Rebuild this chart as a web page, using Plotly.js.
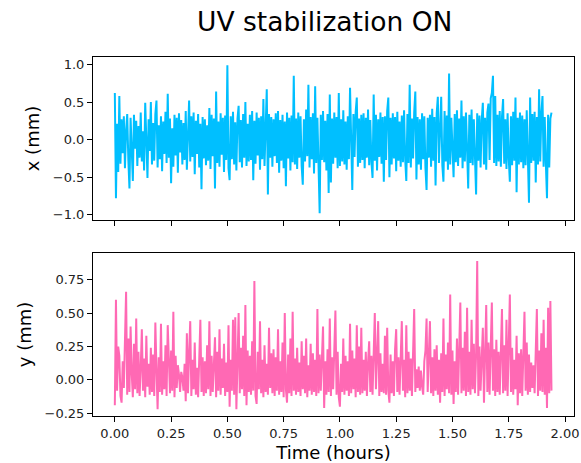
<!DOCTYPE html>
<html>
<head>
<meta charset="utf-8">
<script src="https://cdn.plot.ly/plotly-3.0.1.min.js"></script>
<style>html,body{margin:0;padding:0;background:#fff;}#chart{width:581px;height:463px;}</style>
</head>
<body>
<div id="chart"></div>
<script>
const chartTitle = "UV stabilization ON";
const xLabel = "Time (hours)";
const topLabel = "x (mm)";
const bottomLabel = "y (mm)";
const sampleStepHours = 0.005;

const xDisp = [
0.62,-0.78,0.21,-0.43,0.58,-0.32,0.27,-0.18,0.31,-0.38,0.12,0.34,-0.27,-0.65,0.29,-0.21,-0.55,0.33,-0.12,0.25,
-0.35,0.18,-0.24,0.36,-0.29,0.11,-0.41,0.49,-0.22,-0.51,0.27,-0.15,0.50,-0.33,0.22,-0.28,0.34,0.52,-0.37,0.19,
-0.26,0.31,-0.42,0.24,-0.19,0.37,-0.31,0.61,-0.24,0.28,-0.58,0.15,-0.36,0.33,-0.21,0.29,-0.44,0.35,-0.17,0.26,
-0.33,0.22,-0.27,0.38,-0.40,0.18,0.52,-0.29,0.31,-0.23,0.36,-0.46,0.25,-0.19,0.34,-0.37,0.21,-0.66,0.30,-0.25,
0.27,-0.34,0.19,-0.28,0.42,-0.39,0.33,-0.22,0.28,-0.65,0.64,-0.31,0.24,-0.36,0.35,-0.20,0.29,-0.43,0.32,-0.27,
0.99,-0.38,-0.54,0.31,-0.26,0.37,-0.33,0.23,-0.41,0.28,0.45,-0.30,0.26,-0.37,0.34,-0.24,0.50,-0.35,0.21,-0.29,
0.33,-0.27,0.38,-0.54,0.25,-0.32,0.36,-0.21,0.29,-0.40,0.31,-0.26,0.54,-0.35,0.28,0.67,-0.73,0.34,-0.24,0.30,
-0.36,0.27,-0.22,0.35,-0.31,0.38,-0.44,0.26,-0.28,0.33,-0.38,0.24,-0.62,0.36,-0.25,0.29,-0.41,0.32,-0.30,0.85,
-0.33,0.28,-0.39,0.36,-0.24,0.31,-0.35,-0.60,0.27,-0.29,0.40,-0.22,0.73,-0.37,0.30,-0.26,0.35,-0.45,0.71,-0.31,
0.29,-0.34,-0.98,0.33,-0.27,0.38,-0.30,0.25,-0.41,0.34,-0.71,0.60,-0.57,0.28,-0.32,0.36,-0.24,0.30,-0.38,0.62,
-0.35,0.27,-0.29,0.39,-0.33,0.24,-0.40,0.31,-0.26,0.69,-0.30,-0.67,0.34,-0.23,0.37,0.56,-0.36,0.28,-0.31,0.33,
-0.27,0.35,-0.38,0.29,-0.24,0.40,-0.34,0.26,-0.30,-0.51,0.60,-0.28,0.33,-0.41,0.27,-0.23,0.36,-0.32,0.30,-0.56,
0.31,-0.27,0.38,0.56,-0.50,0.29,-0.33,0.35,-0.25,0.30,-0.42,0.37,-0.28,0.24,-0.36,0.32,-0.30,0.39,-0.26,-0.55,
0.34,-0.31,0.73,-0.37,0.28,-0.25,0.36,0.64,-0.53,0.30,-0.33,0.27,-0.40,0.35,-0.26,0.31,-0.38,-0.67,0.29,-0.24,
0.33,-0.36,0.41,-0.28,0.30,-0.61,0.35,0.57,-0.31,0.27,0.57,-0.34,-0.56,0.38,-0.29,0.32,-0.40,0.88,-0.33,0.29,
-0.27,-0.50,0.34,-0.30,0.39,-0.35,0.28,-0.24,0.52,-0.38,0.31,-0.29,0.36,-0.26,-0.65,0.33,-0.31,0.40,-0.34,0.27,
-0.30,-0.73,0.35,-0.28,0.32,-0.37,0.26,0.49,-0.33,0.29,-0.40,0.36,0.48,-0.27,0.55,0.62,0.85,-0.31,0.58,-0.35,
0.33,-0.29,0.38,-0.36,0.30,0.54,-0.32,0.27,-0.39,0.35,-0.25,-0.56,0.31,-0.34,0.37,-0.28,0.56,-0.70,0.29,-0.33,
0.36,-0.30,0.32,-0.38,0.27,-0.34,0.39,-0.26,-0.84,0.56,-0.31,0.34,-0.28,0.37,-0.57,0.30,-0.33,0.67,-0.29,0.35,
0.58,-0.36,0.30,-0.32,-0.78,0.33,-0.37,0.28,0.36
];

const yDisp = [
-0.19,0.60,-0.08,0.25,0.18,-0.12,-0.17,0.14,-0.06,0.22,0.66,-0.11,0.31,-0.09,0.40,0.05,-0.13,0.27,-0.07,0.46,
-0.10,0.21,-0.12,0.09,0.38,-0.08,0.16,-0.13,0.33,-0.05,0.12,-0.11,0.24,-0.09,0.19,-0.12,0.43,0.08,-0.22,0.17,
-0.09,0.42,-0.11,0.14,-0.07,0.26,-0.12,0.41,0.03,-0.10,0.22,-0.08,0.51,-0.13,0.18,-0.06,0.11,0.04,-0.09,0.06,
0.02,-0.08,0.12,-0.16,0.35,-0.10,0.20,0.44,-0.12,0.15,-0.07,0.28,-0.11,0.09,-0.13,0.23,0.45,-0.09,0.17,-0.12,
0.14,-0.10,0.26,-0.07,0.44,-0.12,0.18,-0.09,0.11,0.32,-0.13,0.21,-0.08,0.38,-0.11,0.16,-0.06,0.27,-0.12,0.13,
-0.09,0.41,-0.20,0.15,-0.08,0.45,-0.11,0.47,-0.22,0.19,0.50,-0.10,0.24,-0.07,0.33,-0.12,0.56,-0.19,0.22,-0.09,
0.18,-0.11,0.29,-0.08,0.74,-0.12,-0.18,0.21,-0.07,0.44,-0.10,0.15,-0.13,0.26,-0.09,0.12,-0.11,0.39,-0.06,0.20,
-0.10,0.23,-0.12,0.17,-0.08,0.38,-0.11,0.14,-0.09,0.28,-0.13,0.50,-0.07,-0.17,0.19,-0.10,0.31,-0.12,0.51,-0.08,
0.16,-0.11,0.24,-0.09,0.13,-0.12,0.29,-0.07,0.18,-0.10,0.31,-0.13,0.11,-0.08,0.27,-0.11,0.20,-0.09,0.15,-0.12,
0.53,-0.10,0.19,-0.08,0.26,0.40,-0.21,0.14,-0.11,0.23,-0.09,0.46,-0.12,0.17,-0.07,0.30,0.52,-0.11,0.21,-0.13,
-0.20,0.12,-0.09,0.31,-0.11,0.18,-0.08,0.14,-0.12,0.42,-0.10,0.22,-0.07,0.16,-0.13,0.41,-0.09,0.25,-0.11,0.39,
-0.10,0.15,-0.08,0.21,-0.12,0.13,0.29,-0.09,0.18,-0.11,0.24,0.50,-0.07,0.16,0.44,-0.12,0.20,-0.09,0.12,-0.10,
0.33,-0.11,0.39,-0.08,-0.17,0.19,-0.10,0.14,-0.12,0.23,0.38,-0.09,0.17,-0.11,0.26,0.44,-0.08,0.15,-0.13,0.41,
-0.10,0.21,-0.08,0.16,-0.12,0.27,0.53,-0.09,0.08,-0.06,0.10,-0.08,0.07,-0.05,-0.11,0.14,0.22,0.46,-0.09,0.18,
0.44,-0.10,0.17,-0.12,0.23,-0.08,0.26,-0.11,0.15,-0.17,0.20,-0.09,0.46,-0.12,0.19,-0.07,0.28,-0.10,0.64,-0.11,
0.22,-0.18,0.14,-0.09,0.31,-0.11,0.19,0.58,-0.10,0.24,-0.08,0.36,-0.12,0.54,-0.09,0.21,-0.11,0.45,-0.07,0.27,
-0.10,0.19,0.89,-0.12,0.25,-0.08,0.16,0.39,-0.17,0.21,0.56,-0.09,0.28,-0.11,0.17,0.58,-0.08,0.23,-0.12,0.30,
-0.09,0.21,-0.11,0.34,0.53,-0.10,0.26,-0.08,0.45,-0.12,0.18,0.64,-0.09,0.24,-0.11,0.15,-0.07,0.33,-0.19,0.20,
-0.10,0.23,-0.12,0.17,0.51,-0.08,0.28,-0.11,0.19,-0.09,0.13,-0.06,0.11,-0.10,0.30,0.53,-0.12,0.22,-0.08,0.35,
-0.09,0.45,-0.11,0.24,-0.21,0.54,-0.10,0.59,-0.08
];

const timeHours = xDisp.map((_, i) => i * sampleStepHours);

const font = {family: "DejaVu Sans, sans-serif", color: "#000"};
const axisCommon = {
  showgrid: false, zeroline: false, showline: true, mirror: true,
  linecolor: "#000", linewidth: 1, ticks: "outside", ticklen: 5, tickwidth: 1,
  tickcolor: "#000", tickfont: {family: font.family, size: 13, color: "#222"}
};

const traces = [
  {x: timeHours, y: xDisp, xaxis: "x2", yaxis: "y2", type: "scatter", mode: "lines",
   line: {color: "#00BFFF", width: 2}, hoverinfo: "skip"},
  {x: timeHours, y: yDisp, xaxis: "x", yaxis: "y", type: "scatter", mode: "lines",
   line: {color: "#FF69B4", width: 2}, hoverinfo: "skip"}
];

const layout = {
  width: 581, height: 463,
  margin: {l: 93, r: 7, t: 57, b: 47},
  paper_bgcolor: "#fff", plot_bgcolor: "#fff",
  showlegend: false,
  font: font,
  title: {text: chartTitle, font: {family: font.family, size: 26.5, color: "#000"},
          xref: "container", x: 0.559, xanchor: "center", yref: "container", y: 0.952, yanchor: "middle"},
  xaxis: Object.assign({}, axisCommon, {anchor: "y", range: [-0.097, 2.04], tick0: 0, dtick: 0.25, tickformat: ".2f",
    title: {text: xLabel, font: {family: font.family, size: 18, color: "#000"}, standoff: 6}}),
  xaxis2: Object.assign({}, axisCommon, {anchor: "y2", matches: "x", range: [-0.097, 2.04], tick0: 0, dtick: 0.25, showticklabels: false}),
  yaxis: Object.assign({}, axisCommon, {domain: [0, 0.454], range: [-0.27, 0.95], tick0: 0, dtick: 0.25, tickformat: ".2f",
    title: {text: bottomLabel, font: {family: font.family, size: 18, color: "#000"}, standoff: 8}}),
  yaxis2: Object.assign({}, axisCommon, {domain: [0.546, 1], range: [-1.07, 1.1], tick0: 0, dtick: 0.5, tickformat: ".1f",
    title: {text: topLabel, font: {family: font.family, size: 18, color: "#000"}, standoff: 8}})
};

Plotly.newPlot("chart", traces, layout, {staticPlot: true, displayModeBar: false});
</script>
</body>
</html>
